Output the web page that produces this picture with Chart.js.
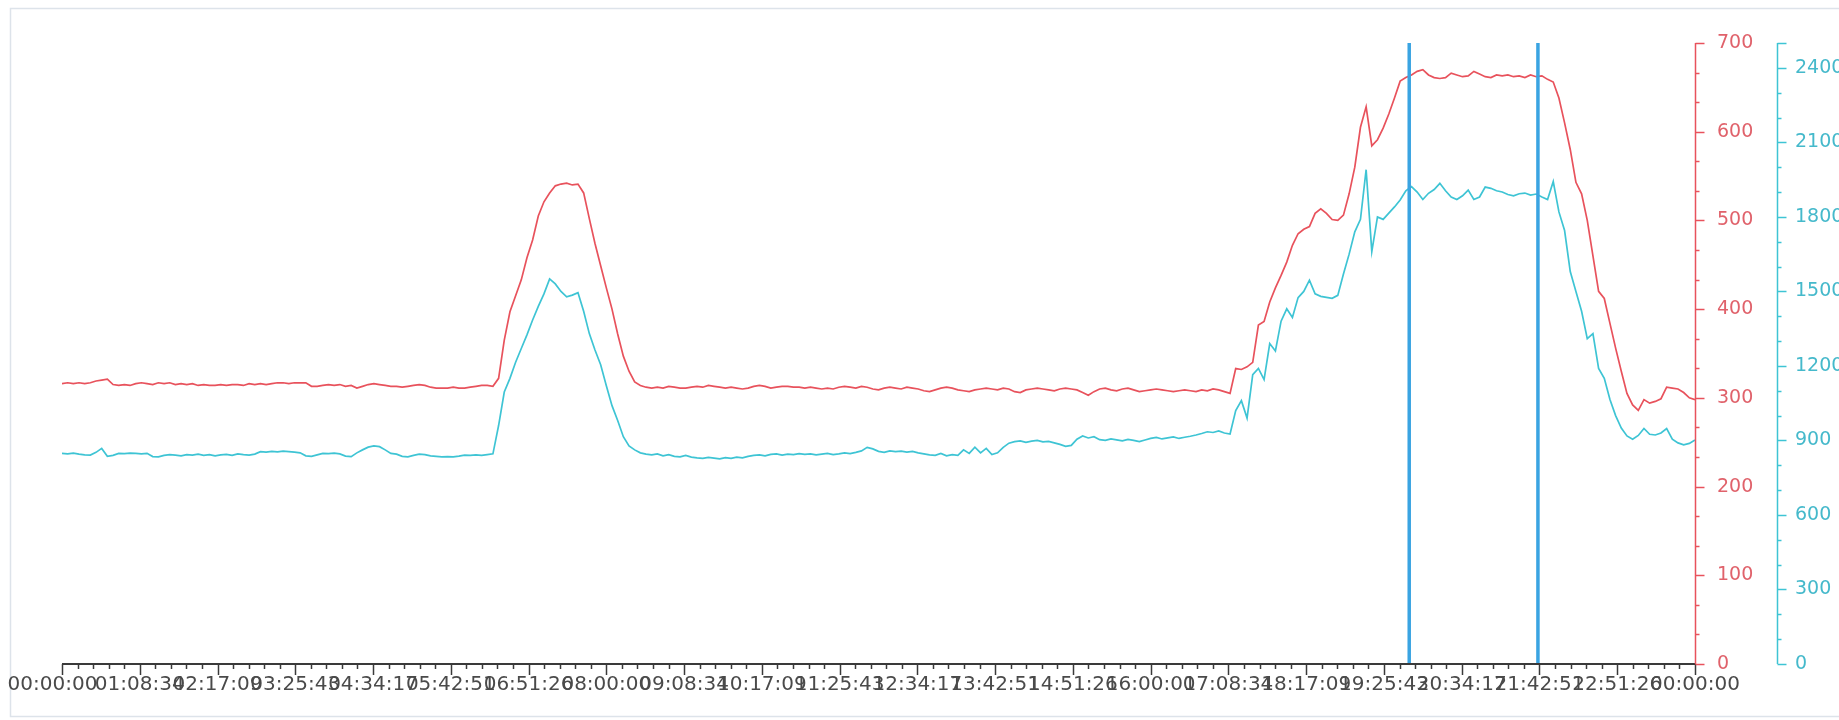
<!DOCTYPE html>
<html><head><meta charset="utf-8">
<script src="https://cdn.jsdelivr.net/npm/chart.js@4.4.1/dist/chart.umd.min.js"></script>
<style>html,body{margin:0;padding:0;background:#fff;}canvas{display:block;}</style>
</head><body>
<canvas id="c" width="1839" height="720"></canvas>
<script>
const stepMinutes = 5;
const dayMinutes = 1440;

const redValues = [
316,317,316,317,316,317,319,320,321,315,
314,315,314,316,317,316,315,317,316,317,
315,316,315,316,314,315,314,314,315,314,
315,315,314,316,315,316,315,316,317,317,
316,317,317,317,313,313,314,315,314,315,
313,314,311,313,315,316,315,314,313,313,
312,313,314,315,314,312,311,311,311,312,
311,311,312,313,314,314,313,
322,365,397,415,433,458,478,505,521,531,
539,541,542,540,541,531,502,474,449,424,
400,372,347,330,318,
314,312,311,312,311,313,312,311,311,312,
313,312,314,313,312,311,312,311,310,311,
313,314,313,311,312,313,313,312,312,311,
312,311,310,311,310,312,313,312,311,313,
312,310,309,311,312,311,310,312,311,310,
308,307,309,311,312,311,309,308,307,309,
310,311,310,309,311,310,307,306,309,310,
311,310,309,308,310,311,310,309,306,303,
307,310,311,309,308,310,311,309,307,308,
309,310,309,308,307,308,309,308,307,309,
308,310,309,307,305,
333,332,335,340,382,386,408,424,438,453,
472,485,490,493,508,513,508,501,500,506,
530,560,605,628,584,591,604,620,638,657,
661,
664,668,670,664,661,660,661,666,664,662,
663,668,665,662,661,664,663,664,662,663,
661,664,662,663,659,656,
638,610,580,543,530,500,460,420,412,384,
356,330,305,292,286,298,294,296,299,312,
311,310,306,300,298
];

const cyanValues = [
848,846,849,845,842,841,852,868,836,840,
848,847,849,848,846,848,835,834,840,843,
841,838,843,841,845,840,843,838,842,844,
840,846,843,841,845,855,853,856,854,857,
855,853,850,838,836,842,848,847,849,846,
837,835,850,862,873,878,875,862,848,845,
836,834,840,845,843,838,836,834,835,834,
837,841,840,842,840,843,846,
960,1095,1150,1215,1270,1325,1385,1440,1490,1550,
1530,1500,1478,1485,1495,1420,1330,1264,1205,1120,
1040,980,915,878,862,
850,845,842,846,838,843,836,834,840,833,
830,828,832,829,826,831,828,833,830,836,
840,842,838,844,846,841,845,843,847,844,
846,842,845,848,843,846,850,847,852,858,
872,866,856,852,858,855,857,853,856,850,
846,842,840,848,838,843,840,862,848,873,
850,868,843,850,872,889,895,898,892,897,
900,894,896,890,884,876,880,905,918,910,
915,903,900,906,902,898,904,900,895,902,
908,912,906,910,914,908,913,917,922,928,
935,932,938,930,926,
1020,1060,990,1165,1190,1145,1290,1260,1380,1430,
1395,1475,1500,1545,1490,1480,1476,1472,1484,1570,
1650,1740,1790,1990,1660,1800,1790,1815,1840,1868,
1905,
1922,1900,1870,1895,1910,1935,1905,1880,1870,1885,
1908,1870,1880,1920,1915,1905,1900,1890,1885,1893,
1896,1888,1892,1880,1870,1942,
1820,1745,1580,1500,1420,1310,1330,1190,1150,1065,
1000,950,918,905,920,948,925,922,930,948,
905,890,882,888,902
];

const xTickLabels = [
"00:00:00","01:08:34","02:17:09","03:25:43","04:34:17","05:42:51","06:51:26",
"08:00:00","09:08:34","10:17:09","11:25:43","12:34:17","13:42:51","14:51:26",
"16:00:00","17:08:34","18:17:09","19:25:43","20:34:17","21:42:51","22:51:26","00:00:00"
];
const redTicks = [0,100,200,300,400,500,600,700];
const cyanTicks = [0,300,600,900,1200,1500,1800,2100,2400];
const markerTimes = [1188, 1301.5];

const RED = '#e8525c';
const CYAN = '#3ec4d4';
const MARK = '#3aa4e2';

const redPoints = redValues.map((v, i) => ({x: i * stepMinutes, y: v}));
const cyanPoints = cyanValues.map((v, i) => ({x: i * stepMinutes, y: v}));
const markerSets = markerTimes.map(t => ({
  data: [{x: t, y: 0}, {x: t, y: 700}],
  yAxisID: 'yRed', borderColor: MARK, borderWidth: 3.5, pointRadius: 0, order: 0
}));

const majorX = xTickLabels.map((_, i) => i * dayMinutes / (xTickLabels.length - 1));

const frame = {
  id: 'frame',
  beforeDraw(chart) {
    const ctx = chart.ctx;
    ctx.save();
    ctx.fillStyle = '#fff';
    ctx.fillRect(0, 0, chart.width, chart.height);
    ctx.strokeStyle = '#dde3ea';
    ctx.lineWidth = 1.5;
    ctx.strokeRect(10.5, 8.5, chart.width, 708);
    ctx.restore();
  },
  afterDraw(chart) {
    const ctx = chart.ctx, ca = chart.chartArea;
    const xs = chart.scales.x, yr = chart.scales.yRed, yc = chart.scales.yCyan;
    const seg = (x1, y1, x2, y2) => { ctx.beginPath(); ctx.moveTo(x1, y1); ctx.lineTo(x2, y2); ctx.stroke(); };
    ctx.save();
    ctx.strokeStyle = '#3a3a3a';
    ctx.lineWidth = 2;
    seg(ca.left, ca.bottom, ca.right, ca.bottom);
    ctx.lineWidth = 1.5;
    const n = (xTickLabels.length - 1) * 5;
    for (let k = 0; k <= n; k++) {
      const px = Math.round(xs.getPixelForValue(k * dayMinutes / n)) + 0.5;
      seg(px, ca.bottom, px, ca.bottom + (k % 5 === 0 ? 11 : 5));
    }
    ctx.strokeStyle = RED;
    ctx.lineWidth = 1.5;
    const rx = Math.round(yr.left) + 0.5;
    seg(rx, yr.getPixelForValue(700), rx, yr.getPixelForValue(0));
    for (let k = 0; k <= 21; k++) {
      const py = Math.round(yr.getPixelForValue(k * 100 / 3)) + 0.5;
      seg(rx, py, rx + (k % 3 === 0 ? 9 : 4), py);
    }
    ctx.strokeStyle = CYAN;
    const cx = Math.round(yc.left) + 0.5;
    seg(cx, yc.getPixelForValue(2500), cx, yc.getPixelForValue(0));
    for (let k = 0; k <= 25; k++) {
      const py = Math.round(yc.getPixelForValue(k * 100)) + 0.5;
      seg(cx, py, cx + ((k % 3 === 0 || k === 25) ? 9 : 4), py);
    }
    ctx.restore();
  }
};

new Chart(document.getElementById('c'), {
  type: 'line',
  data: {
    datasets: [
      ...markerSets,
      {data: redPoints, yAxisID: 'yRed', borderColor: RED, borderWidth: 1.7, pointRadius: 0, order: 1},
      {data: cyanPoints, yAxisID: 'yCyan', borderColor: CYAN, borderWidth: 1.7, pointRadius: 0, order: 2}
    ]
  },
  options: {
    responsive: false,
    devicePixelRatio: 1,
    animation: false,
    events: [],
    layout: {padding: {left: 62, top: 43, right: 0, bottom: 16}},
    plugins: {legend: {display: false}, tooltip: {enabled: false}},
    elements: {line: {tension: 0}},
    scales: {
      x: {
        type: 'linear', min: 0, max: dayMinutes,
        grid: {display: false, drawTicks: false}, border: {display: false},
        afterBuildTicks: s => { s.ticks = majorX.map(v => ({value: v})); },
        afterFit: s => { s.height = 40; s.paddingLeft = 0; s.paddingRight = 0; },
        ticks: {
          autoSkip: false, maxRotation: 0, minRotation: 0, padding: 9,
          color: '#4a4a4a', font: {family: 'DejaVu Sans', size: 20},
          callback: (v, i) => i === 0 ? xTickLabels[0] + '   ' : xTickLabels[i]
        }
      },
      yRed: {
        type: 'linear', position: 'right', weight: 0, min: 0, max: 700,
        grid: {display: false, drawTicks: false}, border: {display: false},
        afterBuildTicks: s => { s.ticks = redTicks.map(v => ({value: v})); },
        afterFit: s => { s.width = 82; s.paddingTop = 0; s.paddingBottom = 0; },
        ticks: {padding: 22, color: '#e0626b', font: {family: 'DejaVu Sans', size: 19},
          callback: v => String(v)}
      },
      yCyan: {
        type: 'linear', position: 'right', weight: 1, min: 0, max: 2500,
        grid: {display: false, drawTicks: false}, border: {display: false},
        afterBuildTicks: s => { s.ticks = cyanTicks.map(v => ({value: v})); },
        afterFit: s => { s.width = 62; s.paddingTop = 0; s.paddingBottom = 0; },
        ticks: {padding: 18, color: '#45b9cb', font: {family: 'DejaVu Sans', size: 19},
          callback: v => String(v)}
      }
    }
  },
  plugins: [frame]
});
</script>
</body></html>
